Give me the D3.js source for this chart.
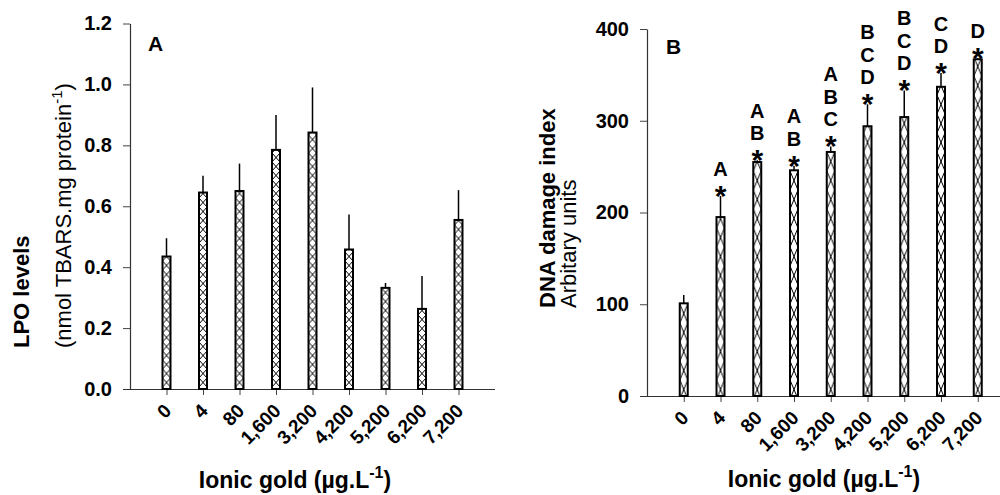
<!DOCTYPE html>
<html>
<head>
<meta charset="utf-8">
<script src="https://cdnjs.cloudflare.com/ajax/libs/d3/7.8.5/d3.min.js"></script>
<style>
  body { margin: 0; background: #fff; }
  svg { display: block; font-family: "Liberation Sans", Arial, sans-serif; }
</style>
</head>
<body>
<div id="graph"></div>
<script>
// Data
var doses = ["0", "4", "80", "1,600", "3,200", "4,200", "5,200", "6,200", "7,200"];

var lpoMeans  = [0.435, 0.645, 0.650, 0.785, 0.842, 0.458, 0.332, 0.263, 0.555];
var lpoErrors = [0.060, 0.055, 0.090, 0.115, 0.148, 0.115, 0.016, 0.108, 0.098];
var lpoTicks  = [0, 0.2, 0.4, 0.6, 0.8, 1.0, 1.2];

var dnaMeans  = [101, 195, 255, 246, 266, 294, 304, 337, 367];
var dnaErrors = [9, 23, 2, 5, 6, 24, 29, 15, 1];
var dnaTicks  = [0, 100, 200, 300, 400];
var dnaStars  = [false, true, true, true, true, true, true, true, true];
var dnaLetters = [[], ["A"], ["A", "B"], ["A", "B"], ["A", "B", "C"],
                  ["B", "C", "D"], ["B", "C", "D"], ["C", "D"], ["D"]];

var svg = d3.select("#graph").append("svg")
    .attr("width", 1000)
    .attr("height", 495);

var defs = svg.append("defs");

// crosshatch fill, one per panel (different pitch)
function MakeHatch(id, w, h)
{
    var p = defs.append("pattern")
        .attr("id", id)
        .attr("patternUnits", "userSpaceOnUse")
        .attr("width", w)
        .attr("height", h);
    p.append("rect").attr("width", w).attr("height", h).attr("fill", "#fff");
    p.append("path")
        .attr("d", "M0,0L" + w + "," + h + "M" + w + ",0L0," + h)
        .attr("stroke", "#000")
        .attr("stroke-width", 1)
        .attr("fill", "none");
}
MakeHatch("hatchA", 8, 9);
MakeHatch("hatchB", 8, 19);

/**
 * Draw one bar panel
 */
function DrawPanel(p)
{
    var x = d3.scalePoint().domain(doses).range(p.xRange).padding(1);
    var y = d3.scaleLinear().domain(p.yDomain).range(p.yRange);
    var g = svg.append("g");
    var barW = 8;

    // y axis
    var yAxis = g.append("g")
        .attr("transform", "translate(" + p.xRange[0] + ",0)")
        .call(d3.axisLeft(y).tickValues(p.ticks).tickFormat(p.fmt)
              .tickSize(7).tickPadding(11).tickSizeOuter(0));
    yAxis.select(".domain").attr("stroke", "#333").attr("stroke-width", 1.2);
    yAxis.selectAll(".tick line").attr("stroke", "#444");
    yAxis.selectAll(".tick text")
        .attr("font-size", 20).attr("font-weight", "bold").attr("fill", "#000")
        .attr("font-family", "Liberation Sans, Arial, sans-serif");

    // x axis
    var xAxis = g.append("g")
        .attr("transform", "translate(0," + p.yRange[0] + ")")
        .call(d3.axisBottom(x).tickSize(6).tickSizeOuter(0).tickFormat(""));
    xAxis.select(".domain")
        .attr("d", "M" + (p.xRange[0] - 7) + ",0.5H" + p.xRange[1])
        .attr("stroke", "#333").attr("stroke-width", 1.2);
    xAxis.selectAll(".tick line").attr("stroke", "#444");

    g.selectAll(".xlab")
        .data(doses)
        .enter().append("text")
        .attr("class", "xlab")
        .attr("transform", function(d) {
            return "translate(" + (x(d) + 6) + "," + (p.yRange[0] + 23) + ") rotate(-45)";
        })
        .attr("text-anchor", "end")
        .attr("font-size", 19)
        .attr("font-weight", "bold")
        .text(function(d) { return d; });

    // error bars (upper only)
    g.selectAll(".err")
        .data(p.means)
        .enter().append("line")
        .attr("x1", function(d, i) { return x(doses[i]); })
        .attr("x2", function(d, i) { return x(doses[i]); })
        .attr("y1", function(d) { return y(d); })
        .attr("y2", function(d, i) { return y(d + p.errors[i]); })
        .attr("stroke", "#000")
        .attr("stroke-width", 1.5);

    // bars
    g.selectAll(".bar")
        .data(p.means)
        .enter().append("g")
        .attr("transform", function(d, i) {
            return "translate(" + (x(doses[i]) - barW / 2) + ",0)";
        })
        .append("rect")
        .attr("x", 0)
        .attr("width", barW)
        .attr("y", function(d) { return y(d); })
        .attr("height", function(d) { return y(0) - y(d); })
        .attr("fill", "url(#" + p.hatch + ")")
        .attr("stroke", "#000")
        .attr("stroke-width", 2);

    // panel letter
    g.append("text")
        .attr("x", p.tag[0]).attr("y", p.tag[1])
        .attr("font-size", 21).attr("font-weight", "bold")
        .text(p.tagText);

    // y title, two lines
    g.append("text")
        .attr("transform", "translate(" + p.yTitle[0] + "," + p.yTitle[2] + ") rotate(-90)")
        .attr("font-size", 22).attr("font-weight", "bold")
        .text(p.yTitleBold);
    var t2 = g.append("text")
        .attr("transform", "translate(" + p.yTitle[1] + "," + p.yTitle[2] + ") rotate(-90)")
        .attr("font-size", 22);
    t2.append("tspan").text(p.yTitleNormal[0]);
    if (p.yTitleNormal.length > 1)
    {
        t2.append("tspan").attr("font-size", 15).attr("dy", -9).text(p.yTitleNormal[1]);
        t2.append("tspan").attr("dy", 9).text(p.yTitleNormal[2]);
    }

    // x title
    var xt = g.append("text")
        .attr("x", p.xTitle[0]).attr("y", p.xTitle[1])
        .attr("text-anchor", "middle")
        .attr("font-size", 23).attr("font-weight", "bold");
    xt.append("tspan").text("Ionic gold (\u00b5g.L");
    xt.append("tspan").attr("font-size", 16).attr("dy", -10).text("-1");
    xt.append("tspan").attr("dy", 10).text(")");

    return { x: x, y: y, g: g };
}

var panelA = DrawPanel({
    xRange: [130, 495], yDomain: [0, 1.2], yRange: [389, 23.5],
    ticks: lpoTicks, fmt: d3.format(".1f"),
    means: lpoMeans, errors: lpoErrors, hatch: "hatchA",
    tag: [148, 51], tagText: "A",
    yTitle: [29, 71, 348], yTitleBold: "LPO levels",
    yTitleNormal: ["(nmol TBARS.mg protein", "-1", ")"],
    xTitle: [295, 488]
});

var panelB = DrawPanel({
    xRange: [647, 1014.5], yDomain: [0, 400], yRange: [396, 29],
    ticks: dnaTicks, fmt: d3.format("d"),
    means: dnaMeans, errors: dnaErrors, hatch: "hatchB",
    tag: [666, 54], tagText: "B",
    yTitle: [555, 576, 308], yTitleBold: "DNA damage index",
    yTitleNormal: ["Arbitary units"],
    xTitle: [824, 487]
});

// significance marks above panel B bars
dnaMeans.forEach(function(m, i)
{
    var cx = panelB.x(doses[i]);
    var starY = panelB.y(m + dnaErrors[i]) - 7;   // centre of asterisk
    if (dnaStars[i])
    {
        panelB.g.append("text")
            .attr("x", cx).attr("y", starY + 17)
            .attr("text-anchor", "middle")
            .attr("font-size", 30).attr("font-weight", "bold")
            .text("*");
    }
    var letters = dnaLetters[i];
    letters.forEach(function(l, j)
    {
        var cy = starY - 20 - (letters.length - 1 - j) * 22.5;
        panelB.g.append("text")
            .attr("x", cx).attr("y", cy + 7)
            .attr("text-anchor", "middle")
            .attr("font-size", 20).attr("font-weight", "bold")
            .text(l);
    });
});
</script>
</body>
</html>
